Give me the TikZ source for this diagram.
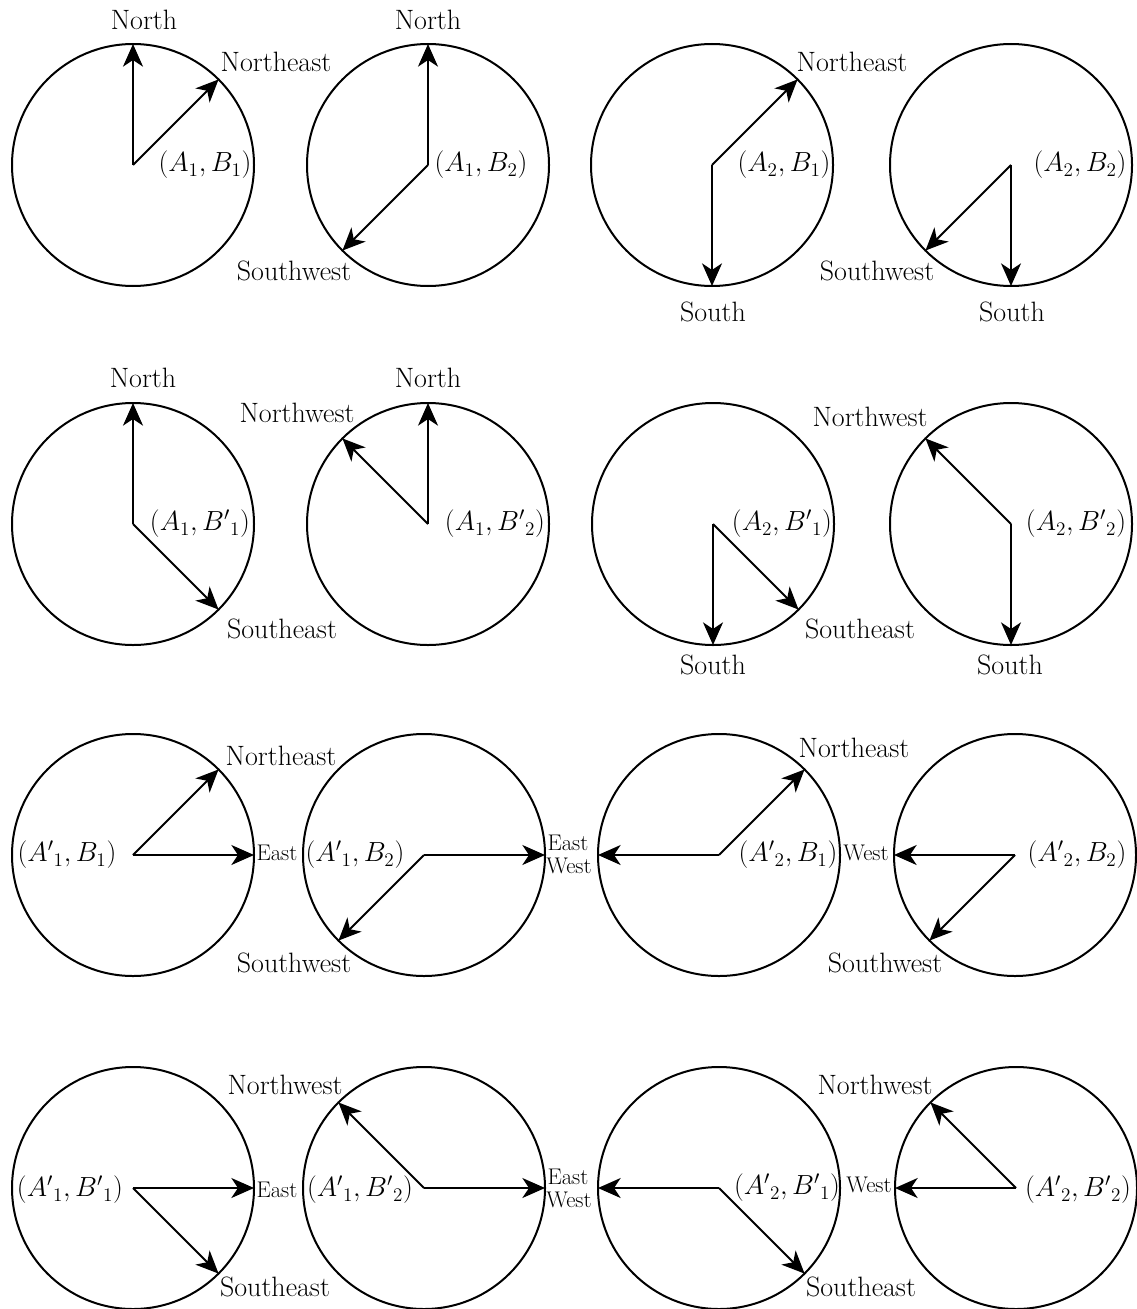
\documentclass[tikz,border=0pt]{standalone}
\usepackage{fontspec}
\usetikzlibrary{arrows.meta}
\begin{document}
\begin{tikzpicture}[x=0.75pt,y=-0.75pt,
  ring/.style={circle,draw,line width=1.5pt,minimum size=181.5pt,inner sep=0pt,outer sep=0pt},
  arr/.style={line width=1.5pt,-{Stealth[length=17pt,width=15pt,inset=5pt]}},
  lab/.style={inner sep=0pt,font=\fontsize{21}{25}\selectfont},
  mlab/.style={inner sep=0pt,font=\fontsize{20.5}{24}\selectfont},
  sml/.style={inner sep=0pt,font=\fontsize{17}{19}\selectfont}]
\useasboundingbox (0,0) rectangle (1137,1309);

% ---------- Row 1 ----------
\node[ring] (r11) at (133,165) {};
\node[ring] (r12) at (428,165) {};
\node[ring] (r13) at (712,165) {};
\node[ring] (r14) at (1011,165) {};
\draw[arr] (r11.center) -- (r11.north);
\draw[arr] (r11.center) -- (r11.north east);
\draw[arr] (r12.center) -- (r12.north);
\draw[arr] (r12.center) -- (r12.south west);
\draw[arr] (r13.center) -- (r13.north east);
\draw[arr] (r13.center) -- (r13.south);
\draw[arr] (r14.center) -- (r14.south west);
\draw[arr] (r14.center) -- (r14.south);
\node[lab] (l11a) at (144,20) {North};
\node[lab] (l11b) at (276,62) {Northeast};
\node[mlab] (l11c) at (205,165) {$(A_1,B_1)$};
\node[lab] (l12a) at (428,20) {North};
\node[mlab] (l12b) at (481,165) {$(A_1,B_2)$};
\node[lab] (l12c) at (294,271) {Southwest};
\node[lab] (l13a) at (852,62) {Northeast};
\node[mlab] (l13b) at (784,165) {$(A_2,B_1)$};
\node[lab] (l13c) at (713,312) {South};
\node[mlab] (l14a) at (1080,165) {$(A_2,B_2)$};
\node[lab] (l14b) at (877,271) {Southwest};
\node[lab] (l14c) at (1012,312) {South};

% ---------- Row 2 ----------
\node[ring] (r21) at (133,524) {};
\node[ring] (r22) at (428,524) {};
\node[ring] (r23) at (713,524) {};
\node[ring] (r24) at (1011,524) {};
\draw[arr] (r21.center) -- (r21.north);
\draw[arr] (r21.center) -- (r21.south east);
\draw[arr] (r22.center) -- (r22.north);
\draw[arr] (r22.center) -- (r22.north west);
\draw[arr] (r23.center) -- (r23.south);
\draw[arr] (r23.center) -- (r23.south east);
\draw[arr] (r24.center) -- (r24.north west);
\draw[arr] (r24.center) -- (r24.south);
\node[lab] (l21a) at (143,378) {North};
\node[mlab] (l21b) at (200,524) {$(A_1,{B'}_1)$};
\node[lab] (l21c) at (282,629) {Southeast};
\node[lab] (l22a) at (428,378) {North};
\node[lab] (l22b) at (297,413) {Northwest};
\node[mlab] (l22c) at (495,524) {$(A_1,{B'}_2)$};
\node[mlab] (l23a) at (782,524) {$(A_2,{B'}_1)$};
\node[lab] (l23b) at (860,629) {Southeast};
\node[lab] (l23c) at (713,665) {South};
\node[lab] (l24a) at (870,417) {Northwest};
\node[mlab] (l24b) at (1076,524) {$(A_2,{B'}_2)$};
\node[lab] (l24c) at (1010,665) {South};

% ---------- Row 3 ----------
\node[ring] (r31) at (133,855) {};
\node[ring] (r32) at (424,855) {};
\node[ring] (r33) at (719,855) {};
\node[ring] (r34) at (1015,855) {};
\draw[arr] (r31.center) -- (r31.north east);
\draw[arr] (r31.center) -- (r31.east);
\draw[arr] (r32.center) -- (r32.east);
\draw[arr] (r32.center) -- (r32.south west);
\draw[arr] (r33.center) -- (r33.west);
\draw[arr] (r33.center) -- (r33.north east);
\draw[arr] (r34.center) -- (r34.west);
\draw[arr] (r34.center) -- (r34.south west);
\node[mlab] (l31a) at (67,855) {$({A'}_1,B_1)$};
\node[lab] (l31b) at (281,756) {Northeast};
\node[sml] (l31c) at (277,853) {East};
\node[mlab] (l32a) at (355,855) {$({A'}_1,B_2)$};
\node[lab] (l32b) at (294,963) {Southwest};
\node[sml] (l32c) at (568,843) {East};
\node[sml] (l33c) at (569,866) {West};
\node[lab] (l33a) at (854,748) {Northeast};
\node[mlab] (l33b) at (788,855) {$({A'}_2,B_1)$};
\node[sml] (l34c) at (866,853) {West};
\node[mlab] (l34a) at (1077,855) {$({A'}_2,B_2)$};
\node[lab] (l34b) at (885,963) {Southwest};

% ---------- Row 4 ----------
\node[ring] (r41) at (133,1188) {};
\node[ring] (r42) at (424,1188) {};
\node[ring] (r43) at (719,1188) {};
\node[ring] (r44) at (1016,1188) {};
\draw[arr] (r41.center) -- (r41.east);
\draw[arr] (r41.center) -- (r41.south east);
\draw[arr] (r42.center) -- (r42.north west);
\draw[arr] (r42.center) -- (r42.east);
\draw[arr] (r43.center) -- (r43.west);
\draw[arr] (r43.center) -- (r43.south east);
\draw[arr] (r44.center) -- (r44.north west);
\draw[arr] (r44.center) -- (r44.west);
\node[mlab] (l41a) at (70,1190) {$({A'}_1,{B'}_1)$};
\node[sml] (l41b) at (277,1190) {East};
\node[lab] (l41c) at (275,1287) {Southeast};
\node[lab] (l42a) at (285,1085) {Northwest};
\node[mlab] (l42b) at (360,1190) {$({A'}_1,{B'}_2)$};
\node[sml] (l42c) at (568,1177) {East};
\node[sml] (l43c) at (569,1200) {West};
\node[mlab] (l43a) at (787,1188) {$({A'}_2,{B'}_1)$};
\node[lab] (l43b) at (861,1287) {Southeast};
\node[lab] (l44a) at (875,1085) {Northwest};
\node[sml] (l44b) at (869,1185) {West};
\node[mlab] (l44c) at (1078,1190) {$({A'}_2,{B'}_2)$};
\end{tikzpicture}
\end{document}
